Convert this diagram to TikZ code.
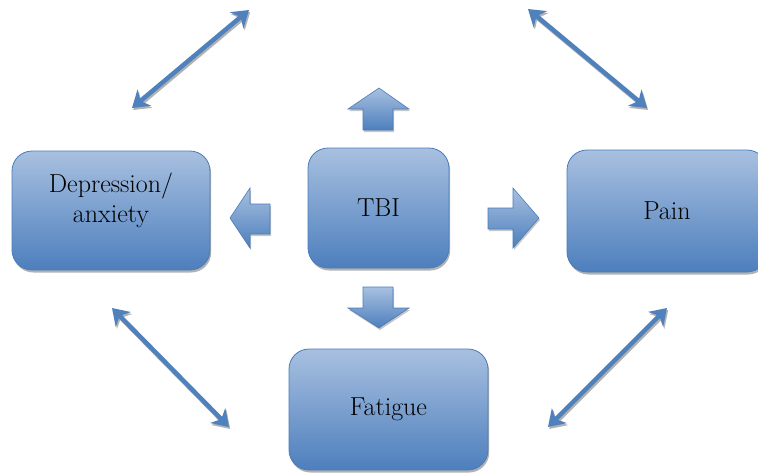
\documentclass[tikz,border=0pt]{standalone}
\usetikzlibrary{arrows.meta,shadows}

\definecolor{boxtop}{RGB}{168,192,224}
\definecolor{boxbot}{RGB}{77,127,189}
\definecolor{boxline}{RGB}{74,124,186}
\definecolor{linkblue}{RGB}{79,129,189}

\begin{document}
\begin{tikzpicture}[x=1pt,y=-1pt]
\tikzset{
  bigbox/.style={rounded corners=20pt, draw=boxline, line width=0.8pt,
    top color=boxtop, bottom color=boxbot, align=center,
    font=\fontsize{26}{30}\selectfont,
    drop shadow={shadow xshift=1.2pt, shadow yshift=-2.5pt, opacity=.55, fill=black!55}},
  blockarrow/.style={draw=boxline, line width=0.6pt, top color=boxtop, bottom color=boxbot,
    drop shadow={shadow xshift=1pt, shadow yshift=-2pt, opacity=.45, fill=black!50}},
  link/.style={linkblue, line width=4.5pt,
    {Stealth[length=16pt,width=21pt,inset=5pt]}-{Stealth[length=16pt,width=21pt,inset=5pt]}},
  linkshade/.style={link, black!30, transform canvas={xshift=1.2pt,yshift=-2pt}}
}
\useasboundingbox (0,0) rectangle (758,475);

% the four effects and the injury
\node [bigbox, minimum width=198pt, minimum height=119pt] (dep) at (111,210.5) {Depression/\\anxiety\\[-4pt]};
\node [bigbox, minimum width=141pt, minimum height=120pt] (tbi) at (378.5,208) {TBI};
\node [bigbox, minimum width=200pt, minimum height=122pt] (pain) at (667,211) {Pain};
\node [bigbox, minimum width=199pt, minimum height=121pt] (fat) at (388.5,409.5) {Fatigue};

% block arrows out of TBI
\shade [blockarrow] (379,88) -- (409,109) -- (393,109) -- (393,130) -- (363,130) -- (363,109) -- (348,109) -- cycle;
\shade [blockarrow] (230,218) -- (250,188) -- (250,204) -- (270,204) -- (270,234) -- (250,234) -- (250,248) -- cycle;
\shade [blockarrow] (539,218) -- (513,188) -- (513,208) -- (488,208) -- (488,229) -- (513,229) -- (513,248) -- cycle;
\shade [blockarrow] (379,328) -- (409,308) -- (393,308) -- (393,287) -- (363,287) -- (363,308) -- (348,308) -- cycle;

% ends of the two-way links
\coordinate (tl1) at (132,108);
\coordinate (tl2) at (249,10);
\coordinate (tr1) at (528,9);
\coordinate (tr2) at (647,108);
\coordinate (bl1) at (112,308);
\coordinate (bl2) at (229,427);
\coordinate (br1) at (548,427);
\coordinate (br2) at (667,308);

\draw [linkshade] (tl1) -- (tl2);
\draw [linkshade] (tr1) -- (tr2);
\draw [linkshade] (bl1) -- (bl2);
\draw [linkshade] (br1) -- (br2);
\draw [link] (tl1) -- (tl2);
\draw [link] (tr1) -- (tr2);
\draw [link] (bl1) -- (bl2);
\draw [link] (br1) -- (br2);
\end{tikzpicture}
\end{document}
